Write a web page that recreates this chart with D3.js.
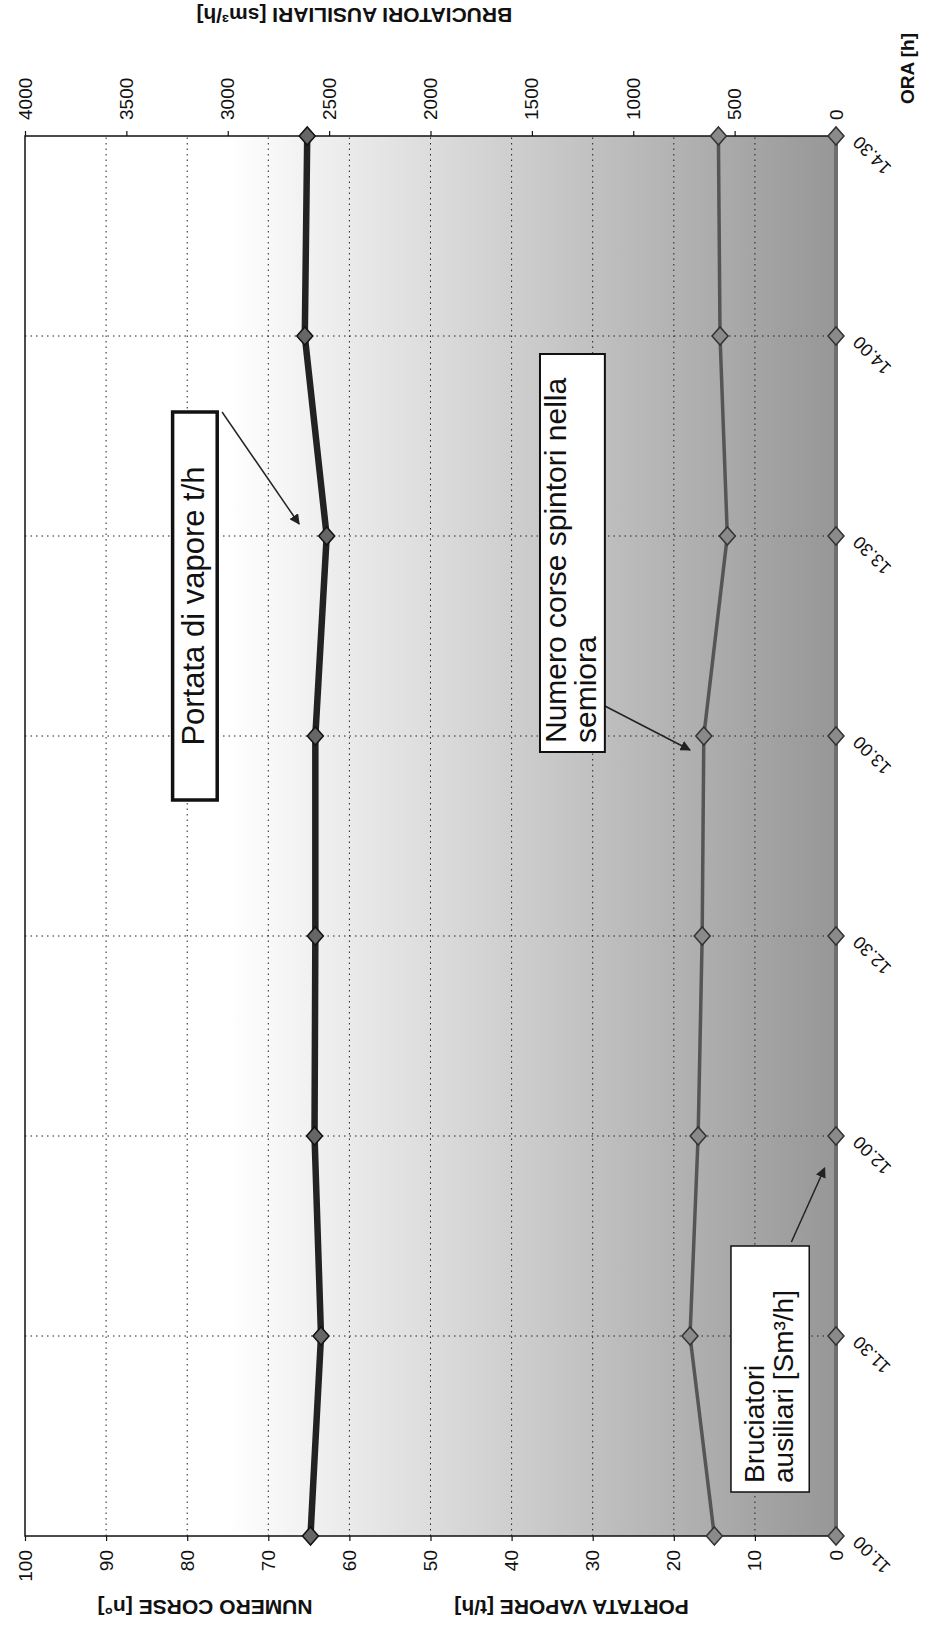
<!DOCTYPE html>
<html>
<head>
<meta charset="utf-8">
<script src="https://cdn.jsdelivr.net/npm/d3@7"></script>
<style>
  body { margin: 0; background: #ffffff; }
  text { font-family: "Liberation Sans", Arial, sans-serif; fill: #111; }
</style>
</head>
<body>
<div class="chart"></div>
<script>
// time of day (half hours)
const timeLabels = ["11.00", "11.30", "12.00", "12.30", "13.00", "13.30", "14.00", "14.30"];
// steam flow t/h (left axis)
const portataVapore = [64.8, 63.5, 64.3, 64.2, 64.2, 62.8, 65.5, 65.2];
// pusher strokes per half hour (left axis)
const numeroCorse = [15, 18, 17, 16.5, 16.3, 13.4, 14.3, 14.5];
// auxiliary burners Sm3/h (right axis)
const bruciatori = [0, 0, 0, 0, 0, 0, 0, 0];

const leftTicks = [0, 10, 20, 30, 40, 50, 60, 70, 80, 90, 100];
const rightTicks = [0, 500, 1000, 1500, 2000, 2500, 3000, 3500, 4000];

// the page is the original chart turned 90 degrees anticlockwise,
// so everything is drawn in the chart's own frame inside a rotated group
const width = 1400, height = 811;

const svg = d3.select(".chart")
  .append("svg")
  .attr("width", 930)
  .attr("height", 1636);

const defs = svg.append("defs");
const grad = defs.append("linearGradient")
  .attr("id", "bg")
  .attr("x1", 0).attr("y1", 0).attr("x2", 0).attr("y2", 1);
grad.append("stop").attr("offset", 0).attr("stop-color", "#ffffff");
grad.append("stop").attr("offset", 0.25).attr("stop-color", "#ffffff");
grad.append("stop").attr("offset", 1).attr("stop-color", "#979797");

defs.append("marker")
  .attr("id", "arrow")
  .attr("viewBox", "0 0 10 10")
  .attr("refX", 9).attr("refY", 5)
  .attr("markerWidth", 7).attr("markerHeight", 7)
  .attr("orient", "auto")
  .append("path")
  .attr("d", "M0,0 L10,5 L0,10 Z")
  .attr("fill", "#222");

const g = svg.append("g")
  .attr("transform", "translate(25,1536) rotate(-90)");

// scales
const x = d3.scaleLinear().domain([0, timeLabels.length - 1]).range([0, width]);
const yL = d3.scaleLinear().domain([0, 100]).range([height, 0]);
const yR = d3.scaleLinear().domain([0, 4000]).range([height, 0]);

// plot area
g.append("rect")
  .attr("width", width)
  .attr("height", height)
  .attr("fill", "url(#bg)");

// dotted grid
g.append("g")
  .selectAll("line")
  .data(leftTicks.slice(1, -1))
  .join("line")
  .attr("x1", 0).attr("x2", width)
  .attr("y1", d => yL(d)).attr("y2", d => yL(d))
  .attr("stroke", "#222")
  .attr("stroke-width", 1)
  .attr("stroke-dasharray", "1.5,4");

g.append("g")
  .selectAll("line")
  .data(d3.range(1, timeLabels.length - 1))
  .join("line")
  .attr("x1", d => x(d)).attr("x2", d => x(d))
  .attr("y1", 0).attr("y2", height)
  .attr("stroke", "#222")
  .attr("stroke-width", 1)
  .attr("stroke-dasharray", "1.5,4");

// frame
g.append("rect")
  .attr("width", width)
  .attr("height", height)
  .attr("fill", "none")
  .attr("stroke", "#111")
  .attr("stroke-width", 1.5);

// axes
const axL = g.append("g")
  .call(d3.axisLeft(yL).tickValues(leftTicks).tickSize(5).tickPadding(9));
const axR = g.append("g")
  .attr("transform", `translate(${width},0)`)
  .call(d3.axisRight(yR).tickValues(rightTicks).tickFormat(d3.format("d"))
    .tickSize(5).tickPadding(11));
const axB = g.append("g")
  .attr("transform", `translate(0,${height})`)
  .call(d3.axisBottom(x).tickValues(d3.range(timeLabels.length))
    .tickFormat(i => timeLabels[i]).tickSize(5));

[axL, axR, axB].forEach(a => {
  a.select(".domain").remove();
  a.selectAll(".tick line").attr("stroke", "#111").attr("stroke-width", 1.2);
  a.selectAll("text").style("font-size", "19px").attr("fill", "#111");
});

axB.selectAll("text")
  .attr("x", 0).attr("y", 0).attr("dy", "0.35em")
  .attr("text-anchor", "end")
  .attr("transform", "translate(-4,20) rotate(-45)")
  .style("font-size", "18px");

// axis titles
g.append("text")
  .attr("transform", `translate(-64,${yL(77.8)}) rotate(-90)`)
  .attr("text-anchor", "middle")
  .style("font-size", "21px").style("font-weight", "bold")
  .text("NUMERO CORSE [n°]");

g.append("text")
  .attr("transform", `translate(-64,${yL(32.6)}) rotate(-90)`)
  .attr("text-anchor", "middle")
  .style("font-size", "21px").style("font-weight", "bold")
  .text("PORTATA VAPORE [t/h]");

g.append("text")
  .attr("transform", `translate(${width + 128},${yL(59.4)}) rotate(-90)`)
  .attr("text-anchor", "middle")
  .style("font-size", "21px").style("font-weight", "bold")
  .text("BRUCIATORI AUSILIARI [sm³/h]");

g.append("text")
  .attr("x", width + 32)
  .attr("y", height + 78)
  .style("font-size", "19px").style("font-weight", "bold")
  .text("ORA [h]");

// series
const lineL = d3.line().x((d, i) => x(i)).y(d => yL(d));
const lineR = d3.line().x((d, i) => x(i)).y(d => yR(d));
const diamond = "M-9,0 L0,-8 L9,0 L0,8 Z";

const series = [
  { values: bruciatori, line: lineR, y: yR, stroke: "#6e6e6e", width: 4, fill: "#8a8a8a", edge: "#333" },
  { values: numeroCorse, line: lineL, y: yL, stroke: "#555", width: 3.5, fill: "#8a8a8a", edge: "#333" },
  { values: portataVapore, line: lineL, y: yL, stroke: "#222", width: 6.5, fill: "#666", edge: "#111" }
];

series.forEach(s => {
  g.append("path")
    .datum(s.values)
    .attr("fill", "none")
    .attr("stroke", s.stroke)
    .attr("stroke-width", s.width)
    .attr("stroke-linejoin", "round")
    .attr("d", s.line);

  g.append("g")
    .selectAll("path")
    .data(s.values)
    .join("path")
    .attr("transform", (d, i) => `translate(${x(i)},${s.y(d)})`)
    .attr("d", diamond)
    .attr("fill", s.fill)
    .attr("stroke", s.edge)
    .attr("stroke-width", 1.5);
});

// callouts: box corners and arrow ends in (half hour index, left axis value)
const callouts = [
  { lines: ["Portata di vapore t/h"], t: [3.68, 5.62], v: [81.8, 76.3],
    from: [5.62, 75.7], to: [5.06, 66.2], border: 3.5, size: 31, align: "middle" },
  { lines: ["Numero corse spintori nella", "semiora"], t: [3.92, 5.91], v: [36.5, 28.5],
    from: [4.15, 28.5], to: [3.93, 18], border: 2, size: 30, align: "start" },
  { lines: ["Bruciatori", "ausiliari [Sm³/h]"], t: [0.22, 1.45], v: [12.95, 3.3],
    from: [1.47, 5.5], to: [1.84, 1.4], border: 1.5, size: 28, align: "start" }
];

callouts.forEach(c => {
  g.append("line")
    .attr("x1", x(c.from[0])).attr("y1", yL(c.from[1]))
    .attr("x2", x(c.to[0])).attr("y2", yL(c.to[1]))
    .attr("stroke", "#222")
    .attr("stroke-width", 1.5)
    .attr("marker-end", "url(#arrow)");

  const bx = x(c.t[0]), by = yL(c.v[0]);
  const bw = x(c.t[1]) - bx, bh = yL(c.v[1]) - by;
  g.append("rect")
    .attr("x", bx).attr("y", by)
    .attr("width", bw)
    .attr("height", bh)
    .attr("fill", "#ffffff")
    .attr("stroke", "#111")
    .attr("stroke-width", c.border);

  const top = by + (bh - c.lines.length * c.size * 1.02) / 2;
  c.lines.forEach((t, k) => {
    g.append("text")
      .attr("x", c.align === "middle" ? bx + bw / 2 : bx + 9)
      .attr("y", top + c.size * 0.8 + k * c.size * 1.02)
      .attr("text-anchor", c.align)
      .style("font-size", c.size + "px")
      .text(t);
  });
});
</script>
</body>
</html>
